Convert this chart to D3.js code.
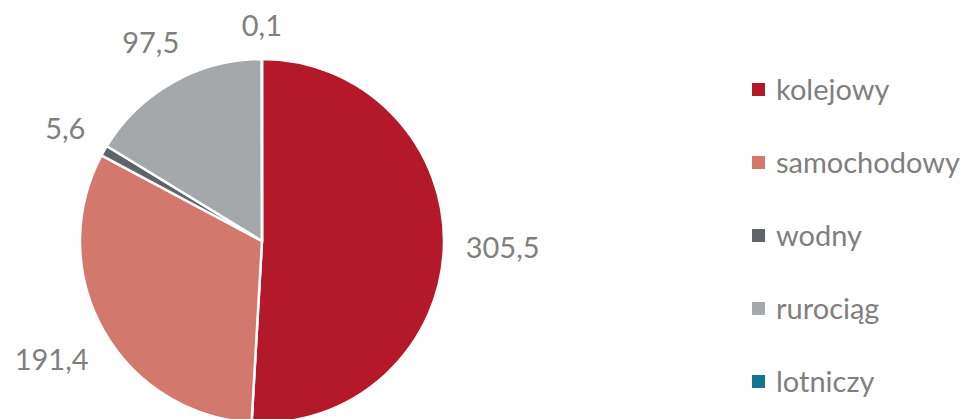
<!DOCTYPE html>
<html>
<head>
<meta charset="utf-8">
<script src="https://cdn.jsdelivr.net/npm/d3@7/dist/d3.min.js"></script>
<style>
  html, body { margin: 0; padding: 0; background: #fff; }
  svg { display: block; }
  text { font-family: Lato, "Open Sans", sans-serif; fill: #7f7f7f; }
</style>
</head>
<body>
<svg id="chart" width="967" height="419"></svg>
<script>
const categories = ["kolejowy", "samochodowy", "wodny", "rurociąg", "lotniczy"];
const values = [305.5, 191.4, 5.6, 97.5, 0.1];
const colors = ["#B31929", "#D2786D", "#5F6468", "#A5A8AB", "#13758F"];

const W = 967, H = 419;
const cx = 262, cy = 241, R = 182;
const labelFont = 29, legendFont = 29;

const svg = d3.select("#chart");
const data = categories.map((c, i) => ({ name: c, value: values[i], color: colors[i] }));

const pie = d3.pie().value(d => d.value).sort(null);
const arcs = pie(data);
const arc = d3.arc().innerRadius(0).outerRadius(R);

const g = svg.append("g").attr("transform", `translate(${cx},${cy})`);
g.selectAll("path.slice").data(arcs).enter().append("path")
  .attr("class", "slice")
  .attr("d", arc)
  .attr("fill", d => d.data.color)
  .attr("stroke", "#fff")
  .attr("stroke-width", 2.5)
  .attr("stroke-linejoin", "round");

const fmt = v => d3.format(".1f")(v).replace(".", ",");
const gap = 21.5;
const digitH = labelFont * 0.79;
g.selectAll("text.lbl").data(arcs).enter().append("text")
  .attr("class", "lbl")
  .attr("font-size", labelFont)
  .attr("text-anchor", "middle")
  .text(d => fmt(d.data.value))
  .each(function(d) {
    const w = this.getComputedTextLength();
    const a = (d.startAngle + d.endAngle) / 2;
    const s = Math.sin(a), c = -Math.cos(a);
    const dist = R + gap + Math.abs(s) * w / 2 + Math.abs(c) * digitH / 2;
    const x = s * dist, y = c * dist;
    d3.select(this).attr("x", x).attr("y", y + labelFont * 0.36);
  });

const legX = 752, legY0 = 89.5, legStep = 73, sq = 13;
const leg = svg.append("g");
data.forEach((d, i) => {
  const y = legY0 + i * legStep;
  leg.append("rect").attr("x", legX).attr("y", y - sq / 2).attr("width", sq).attr("height", sq).attr("fill", d.color);
  leg.append("text").attr("x", legX + 24).attr("y", y + legendFont * 0.36)
    .attr("font-size", legendFont).text(d.name);
});
</script>
</body>
</html>
